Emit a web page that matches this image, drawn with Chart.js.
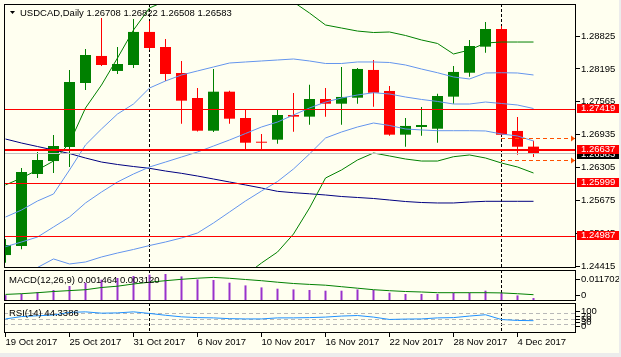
<!DOCTYPE html>
<html><head><meta charset="utf-8">
<script src="https://cdn.jsdelivr.net/npm/chart.js@4.4.1/dist/chart.umd.min.js"></script>
<style>
html,body{margin:0;padding:0;background:#fffff0;}
#wrap{position:relative;width:621px;height:357px;overflow:hidden;background:#fffff0;}
canvas{position:absolute;left:0;}
#edgeB{position:absolute;left:0;top:353px;width:621px;height:4px;background:#ececec;}
#edgeR{position:absolute;left:619px;top:0;width:2px;height:357px;background:#ececec;}
</style></head><body>
<div id="wrap">
<canvas id="cMain" width="621" height="270" style="top:0px"></canvas>
<canvas id="cMacd" width="621" height="34" style="top:268px"></canvas>
<canvas id="cRsi" width="621" height="56" style="top:301px"></canvas>
<div id="edgeB"></div><div id="edgeR"></div>
</div>
<script>
// ---------------- data ----------------
const symbolName = 'USDCAD,Daily';
const dates = ['19 Oct 2017','20 Oct 2017','23 Oct 2017','24 Oct 2017','25 Oct 2017','26 Oct 2017','27 Oct 2017','30 Oct 2017','31 Oct 2017',
 '1 Nov 2017','2 Nov 2017','3 Nov 2017','6 Nov 2017','7 Nov 2017','8 Nov 2017','9 Nov 2017','10 Nov 2017','13 Nov 2017','14 Nov 2017',
 '15 Nov 2017','16 Nov 2017','17 Nov 2017','20 Nov 2017','21 Nov 2017','22 Nov 2017','23 Nov 2017','24 Nov 2017','27 Nov 2017',
 '28 Nov 2017','29 Nov 2017','30 Nov 2017','1 Dec 2017','4 Dec 2017','5 Dec 2017'];
const openP  = [1.24632,1.24805,1.26184,1.26432,1.26701,1.27926,1.28444,1.28157,1.28271,1.28904,1.28616,1.28118,1.27639,1.27013,1.27760,1.27256,1.26796,
 1.26841,1.27314,1.27282,1.27620,1.27530,1.27645,1.28176,1.27774,1.26937,1.27084,1.27051,1.27665,1.28123,1.28622,1.28960,1.27008,1.26708];
const highP  = [1.24940,1.26299,1.26605,1.26931,1.28176,1.28577,1.29172,1.28616,1.29152,1.29114,1.28769,1.28348,1.27831,1.28195,1.27779,1.27415,1.26950,
 1.27415,1.27735,1.27894,1.27831,1.28233,1.28213,1.28367,1.27869,1.27256,1.27467,1.27722,1.28252,1.28750,1.29095,1.29018,1.27275,1.26822];
const lowP   = [1.24485,1.24742,1.26107,1.26203,1.26318,1.27793,1.28252,1.28099,1.28213,1.28559,1.27965,1.27147,1.26997,1.26988,1.27147,1.26637,1.26637,
 1.26764,1.26994,1.27128,1.27282,1.27128,1.27530,1.27473,1.26918,1.26706,1.26918,1.26783,1.27530,1.28048,1.28506,1.26931,1.26554,1.26508];
const closeP = [1.24824,1.26222,1.26452,1.26720,1.27946,1.28463,1.28271,1.28290,1.28904,1.28596,1.28099,1.27588,1.27013,1.27760,1.27243,1.26783,1.26783,
 1.27314,1.27282,1.27620,1.27530,1.27659,1.28195,1.27740,1.26937,1.27104,1.27122,1.27678,1.28138,1.28635,1.28960,1.26937,1.26706,1.26583];

const bbUpper  = [1.25360,1.25494,1.25667,1.25801,1.26261,1.26740,1.27046,1.27333,1.27524,1.27830,1.27965,1.28080,1.28157,1.28233,1.28309,1.28329,1.28348,
 1.28367,1.28386,1.28348,1.28300,1.28300,1.28329,1.28329,1.28319,1.28271,1.28194,1.28123,1.28042,1.28003,1.28118,1.28123,1.28118,1.28080];
const bbMiddle = [1.24792,1.24882,1.24977,1.25169,1.25360,1.25629,1.25839,1.26031,1.26184,1.26318,1.26413,1.26509,1.26605,1.26720,1.26835,1.26959,1.27084,
 1.27179,1.27314,1.27448,1.27562,1.27639,1.27697,1.27740,1.27716,1.27658,1.27611,1.27573,1.27524,1.27524,1.27562,1.27534,1.27505,1.27438];
const bbLower  = [1.24269,1.24326,1.24394,1.24557,1.24461,1.24499,1.24595,1.24671,1.24739,1.24814,1.24882,1.24959,1.25054,1.25246,1.25456,1.25667,1.25858,
 1.26040,1.26280,1.26567,1.26873,1.26988,1.27084,1.27160,1.27113,1.27046,1.27027,1.27013,1.27013,1.27013,1.27008,1.26950,1.26912,1.26816];
const bbWideUpper = [1.25974,1.26107,1.26261,1.26432,1.26777,1.27448,1.27888,1.28405,1.28941,1.29363,1.29497,1.29630,1.29707,1.29707,1.29688,1.29621,1.29573,
 1.29554,1.29477,1.29266,1.29037,1.28979,1.28921,1.28893,1.28903,1.28836,1.28750,1.28683,1.28482,1.28558,1.28692,1.28711,1.28711,1.28711];
const bbWideLower = [1.23714,1.23675,1.23618,1.23905,1.23560,1.23388,1.23388,1.23369,1.23408,1.23312,1.23331,1.23388,1.23503,1.23733,1.23981,1.24249,1.24480,
 1.24690,1.25035,1.25533,1.26107,1.26261,1.26452,1.26586,1.26529,1.26471,1.26432,1.26432,1.26515,1.26548,1.26490,1.26394,1.26318,1.26203];
const maSlow = [1.26854,1.26777,1.26710,1.26644,1.26576,1.26490,1.26413,1.26366,1.26327,1.26293,1.26241,1.26197,1.26145,1.26088,1.26031,1.25974,1.25916,
 1.25852,1.25826,1.25805,1.25782,1.25753,1.25734,1.25715,1.25686,1.25657,1.25638,1.25629,1.25629,1.25648,1.25661,1.25661,1.25661,1.25661];

const macdHist = [0.0029,0.00361,0.00446,0.00545,0.00743,0.00906,0.01054,0.01139,0.01238,0.01302,0.01337,0.01218,0.01069,0.0104,0.00906,0.00772,0.00673,
 0.00609,0.00574,0.00545,0.0051,0.0051,0.00574,0.00545,0.00411,0.00347,0.00347,0.00347,0.00411,0.00411,0.0051,0.00411,0.00277,0.001464];
const macdSignal = [0.00327,0.00361,0.00411,0.0047,0.00515,0.00559,0.00668,0.00733,0.00842,0.00931,0.01005,0.01074,0.01129,0.01168,0.01124,0.01064,0.01005,
 0.00931,0.00866,0.00822,0.00782,0.00708,0.00634,0.00559,0.0051,0.0047,0.00446,0.00411,0.00411,0.00411,0.00411,0.004,0.00361,0.00312];
const rsiValues = [51,60,63,66,76,78,73,74,78,72,65,59,56,55,52,51,51,55,55,56,58,62,64,58,49,50.5,51,55,56,62,67,48.6,45.2,44.3386];

const priceTicks = [1.24415,1.25045,1.25675,1.26305,1.26935,1.27565,1.28195,1.28825];
const levelPrices = [1.27419,1.26637,1.25999,1.24987];
const targetPrices = [1.26858,1.26437];
const targetStartIdx = 31;
const separatorIdx = [9,31];
const dateTickIdx = [0,4,8,12,16,20,24,28,32];
const macdTickLabels = [0,0.011702];
const rsiTickLabels = [0,30,50,70,100];
const rsiLevels = [30,50,70];

// ---------------- styles ----------------
const FONT = "'Liberation Sans', Arial, sans-serif";
const UP = '#008000', DOWN = '#ff0000';
const levelWidths = [1,2,1,1];
Chart.defaults.font.family = FONT;
Chart.defaults.font.size = 9.5;
Chart.defaults.color = '#000';
Chart.defaults.animation = false;

const idx = dates.map((d,i)=>i);
const X_MIN = -0.09375, X_MAX = 35.65625;
const last = closeP.length-1;
const candleColors = idx.map(i => closeP[i] >= openP[i] ? UP : DOWN);

function noPad(s){ s.paddingLeft = 0; s.paddingRight = 0; s.paddingTop = 0; s.paddingBottom = 0; }
function xAxis(show){
  return {type:'linear', min:X_MIN, max:X_MAX, offset:false, display:show,
    grid:{display:true, drawOnChartArea:false, drawTicks:true, tickLength:4, color:'#000', offset:false},
    border:{display:false},
    afterBuildTicks: s => { s.ticks = dateTickIdx.map(v=>({value:v})); },
    afterFit: s => { if (show) s.height = 24; noPad(s); },
    ticks:{align:'start', autoSkip:false, maxRotation:0, minRotation:0, padding:0, callback:v=>dates[v]}};
}
function rightAxis(min,max,tickVals,fmt){
  return {type:'linear', position:'right', min, max,
    grid:{display:true, drawOnChartArea:false, drawTicks:true, tickLength:4, color:'#000'},
    border:{display:false},
    afterBuildTicks: s => { s.ticks = tickVals.map(v=>({value:v})); },
    afterFit: s => { s.width = 45; noPad(s); },
    ticks:{padding:1, autoSkip:false, callback:fmt}};
}
function hiddenAxis(min,max){
  return {type:'linear', display:false, min, max, afterFit: noPad};
}
function lineDs(arr, color, order, yID){
  return {type:'line', data: idx.map(i=>({x:i, y:arr[i]})), borderColor:color, borderWidth:1,
    pointRadius:0, tension:0, fill:false, order, yAxisID: yID||'y'};
}
function drawSeparators(chart){
  const {ctx, chartArea:a, scales:{x}} = chart;
  ctx.save(); ctx.strokeStyle='#000'; ctx.lineWidth=1; ctx.setLineDash([3,2]);
  separatorIdx.forEach(i=>{
    const px = Math.floor(x.getPixelForValue(i))+0.5;
    ctx.beginPath(); ctx.moveTo(px,a.top); ctx.lineTo(px,a.bottom); ctx.stroke();
  });
  ctx.restore();
}
function drawFrame(chart){
  const {ctx, chartArea:a} = chart;
  ctx.save(); ctx.strokeStyle='#000'; ctx.lineWidth=1; ctx.setLineDash([]);
  ctx.strokeRect(a.left+0.5, a.top+0.5, a.right-a.left-1, a.bottom-a.top-1);
  ctx.restore();
}
function hLine(ctx,a,py,color,w,dash,x0){
  ctx.save(); ctx.strokeStyle=color; ctx.lineWidth=w; ctx.setLineDash(dash||[]);
  const yy = (w%2) ? Math.floor(py)+0.5 : Math.round(py);
  ctx.beginPath(); ctx.moveTo(x0!==undefined?x0:a.left, yy); ctx.lineTo(a.right, yy); ctx.stroke();
  ctx.restore();
  return yy;
}
function priceBox(ctx,a,py,bg,text){
  const top = Math.floor(py)-5;
  ctx.fillStyle=bg; ctx.fillRect(a.right+1, top, 621-a.right-1, 9);
  ctx.fillStyle='#fff'; ctx.textAlign='left'; ctx.textBaseline='middle';
  ctx.font = "9.5px "+FONT;
  ctx.fillText(text, a.right+5, top+4.5);
}

// ---------------- main chart ----------------
const mainPlugin = {
  id:'mainDecor',
  beforeDatasetsDraw(chart){ drawSeparators(chart); },
  afterDatasetsDraw(chart){
    const {ctx, chartArea:a, scales:{x,y}} = chart;
    ctx.save(); ctx.beginPath(); ctx.rect(a.left,a.top,a.right-a.left,a.bottom-a.top); ctx.clip();
    hLine(ctx,a,y.getPixelForValue(closeP[last]),'#c0c0c0',1);
    levelPrices.forEach((v,k)=>hLine(ctx,a,y.getPixelForValue(v),'#ff0000',levelWidths[k]));
    const x0 = Math.floor(x.getPixelForValue(targetStartIdx));
    targetPrices.forEach(v=>{
      const yy = hLine(ctx,a,y.getPixelForValue(v),'#ff5000',1,[4,3],x0);
      ctx.fillStyle='#ff5000'; ctx.beginPath();
      ctx.moveTo(a.right-5, yy-3); ctx.lineTo(a.right-1, yy); ctx.lineTo(a.right-5, yy+3); ctx.closePath(); ctx.fill();
    });
    ctx.restore();
  },
  afterDraw(chart){
    const {ctx, chartArea:a, scales:{y}} = chart;
    drawFrame(chart);
    ctx.save();
    priceBox(ctx,a,y.getPixelForValue(closeP[last])+2,'#000000',closeP[last].toFixed(5));
    levelPrices.forEach(v=>priceBox(ctx,a,y.getPixelForValue(v),'#ff0000',v.toFixed(5)));
    ctx.fillStyle='#000'; ctx.beginPath(); ctx.moveTo(10,11); ctx.lineTo(15,11); ctx.lineTo(12.5,14); ctx.closePath(); ctx.fill();
    ctx.font="9.5px "+FONT; ctx.textAlign='left'; ctx.textBaseline='middle';
    ctx.fillText(symbolName+' '+[openP[last],highP[last],lowP[last],closeP[last]].map(v=>v.toFixed(5)).join(' '), 20, 13);
    ctx.restore();
  }
};
new Chart(document.getElementById('cMain'), {
  type:'bar',
  data:{datasets:[
    {type:'bar', data: idx.map(i=>({x:i, y:[lowP[i],highP[i]]})), backgroundColor:candleColors, barThickness:1, grouped:false, order:20, inflateAmount:0, borderWidth:0},
    {type:'bar', data: idx.map(i=>({x:i, y:[openP[i],closeP[i]]})), backgroundColor:candleColors, barThickness:11, grouped:false, order:19, inflateAmount:0, borderWidth:0, minBarLength:1},
    lineDs(maSlow,'#000080',6),
    lineDs(bbWideUpper,'#008000',5),
    lineDs(bbWideLower,'#008000',5),
    lineDs(bbUpper,'#6495ed',4),
    lineDs(bbMiddle,'#6495ed',4),
    lineDs(bbLower,'#6495ed',4)
  ]},
  options:{responsive:false, devicePixelRatio:1, animation:false,
    layout:{padding:{left:4, top:4, right:0, bottom:2}},
    plugins:{legend:{display:false}, tooltip:{enabled:false}},
    scales:{
      x: xAxis(false),
      y: rightAxis(1.24384,1.29439,priceTicks,v=>Number(v).toFixed(5))
    }},
  plugins:[mainPlugin]
});

// ---------------- MACD ----------------
const macdPlugin = {
  id:'macdDecor',
  beforeDatasetsDraw(chart){ drawSeparators(chart); },
  afterDraw(chart){
    const {ctx} = chart;
    drawFrame(chart);
    ctx.save(); ctx.fillStyle='#000'; ctx.font="9.5px "+FONT; ctx.textAlign='left'; ctx.textBaseline='middle';
    ctx.fillText('MACD(12,26,9) '+macdHist[last].toFixed(6)+' '+macdSignal[last].toFixed(6), 9, 12.5);
    ctx.restore();
  }
};
new Chart(document.getElementById('cMacd'), {
  type:'bar',
  data:{datasets:[
    {type:'bar', data: idx.map(i=>({x:i, y:macdHist[i]})), backgroundColor:'#9932cc', barThickness:2, grouped:false, order:5, inflateAmount:0, borderWidth:0, yAxisID:'y'},
    lineDs(macdSignal,'#008000',1)
  ]},
  options:{responsive:false, devicePixelRatio:1, animation:false,
    layout:{padding:{left:4, top:2, right:0, bottom:1}},
    plugins:{legend:{display:false}, tooltip:{enabled:false}},
    scales:{
      x: xAxis(false),
      y: hiddenAxis(0,0.015345),
      yl: rightAxis(-0.003876,0.018796,macdTickLabels,v=>v===0?'0':Number(v).toFixed(6))
    }},
  plugins:[macdPlugin]
});

// ---------------- RSI ----------------
const rsiPlugin = {
  id:'rsiDecor',
  beforeDatasetsDraw(chart){
    const {ctx, chartArea:a, scales:{y}} = chart;
    drawSeparators(chart);
    rsiLevels.forEach(v=>hLine(ctx,a,y.getPixelForValue(v),'#b8b8b8',1,[4,3]));
  },
  afterDraw(chart){
    const {ctx} = chart;
    drawFrame(chart);
    ctx.save(); ctx.fillStyle='#000'; ctx.font="9.5px "+FONT; ctx.textAlign='left'; ctx.textBaseline='middle';
    ctx.fillText('RSI(14) '+rsiValues[last].toFixed(4), 9, 12.5);
    ctx.restore();
  }
};
new Chart(document.getElementById('cRsi'), {
  type:'line',
  data:{datasets:[ lineDs(rsiValues,'#1e90ff',1) ]},
  options:{responsive:false, devicePixelRatio:1, animation:false,
    layout:{padding:{left:4, top:2, right:0, bottom:0}},
    plugins:{legend:{display:false}, tooltip:{enabled:false}},
    scales:{
      x: xAxis(true),
      y: hiddenAxis(-2.7,111.8),
      yl: rightAxis(-43.3,156.7,rsiTickLabels,v=>String(v))
    }},
  plugins:[rsiPlugin]
});
</script>
</body></html>
